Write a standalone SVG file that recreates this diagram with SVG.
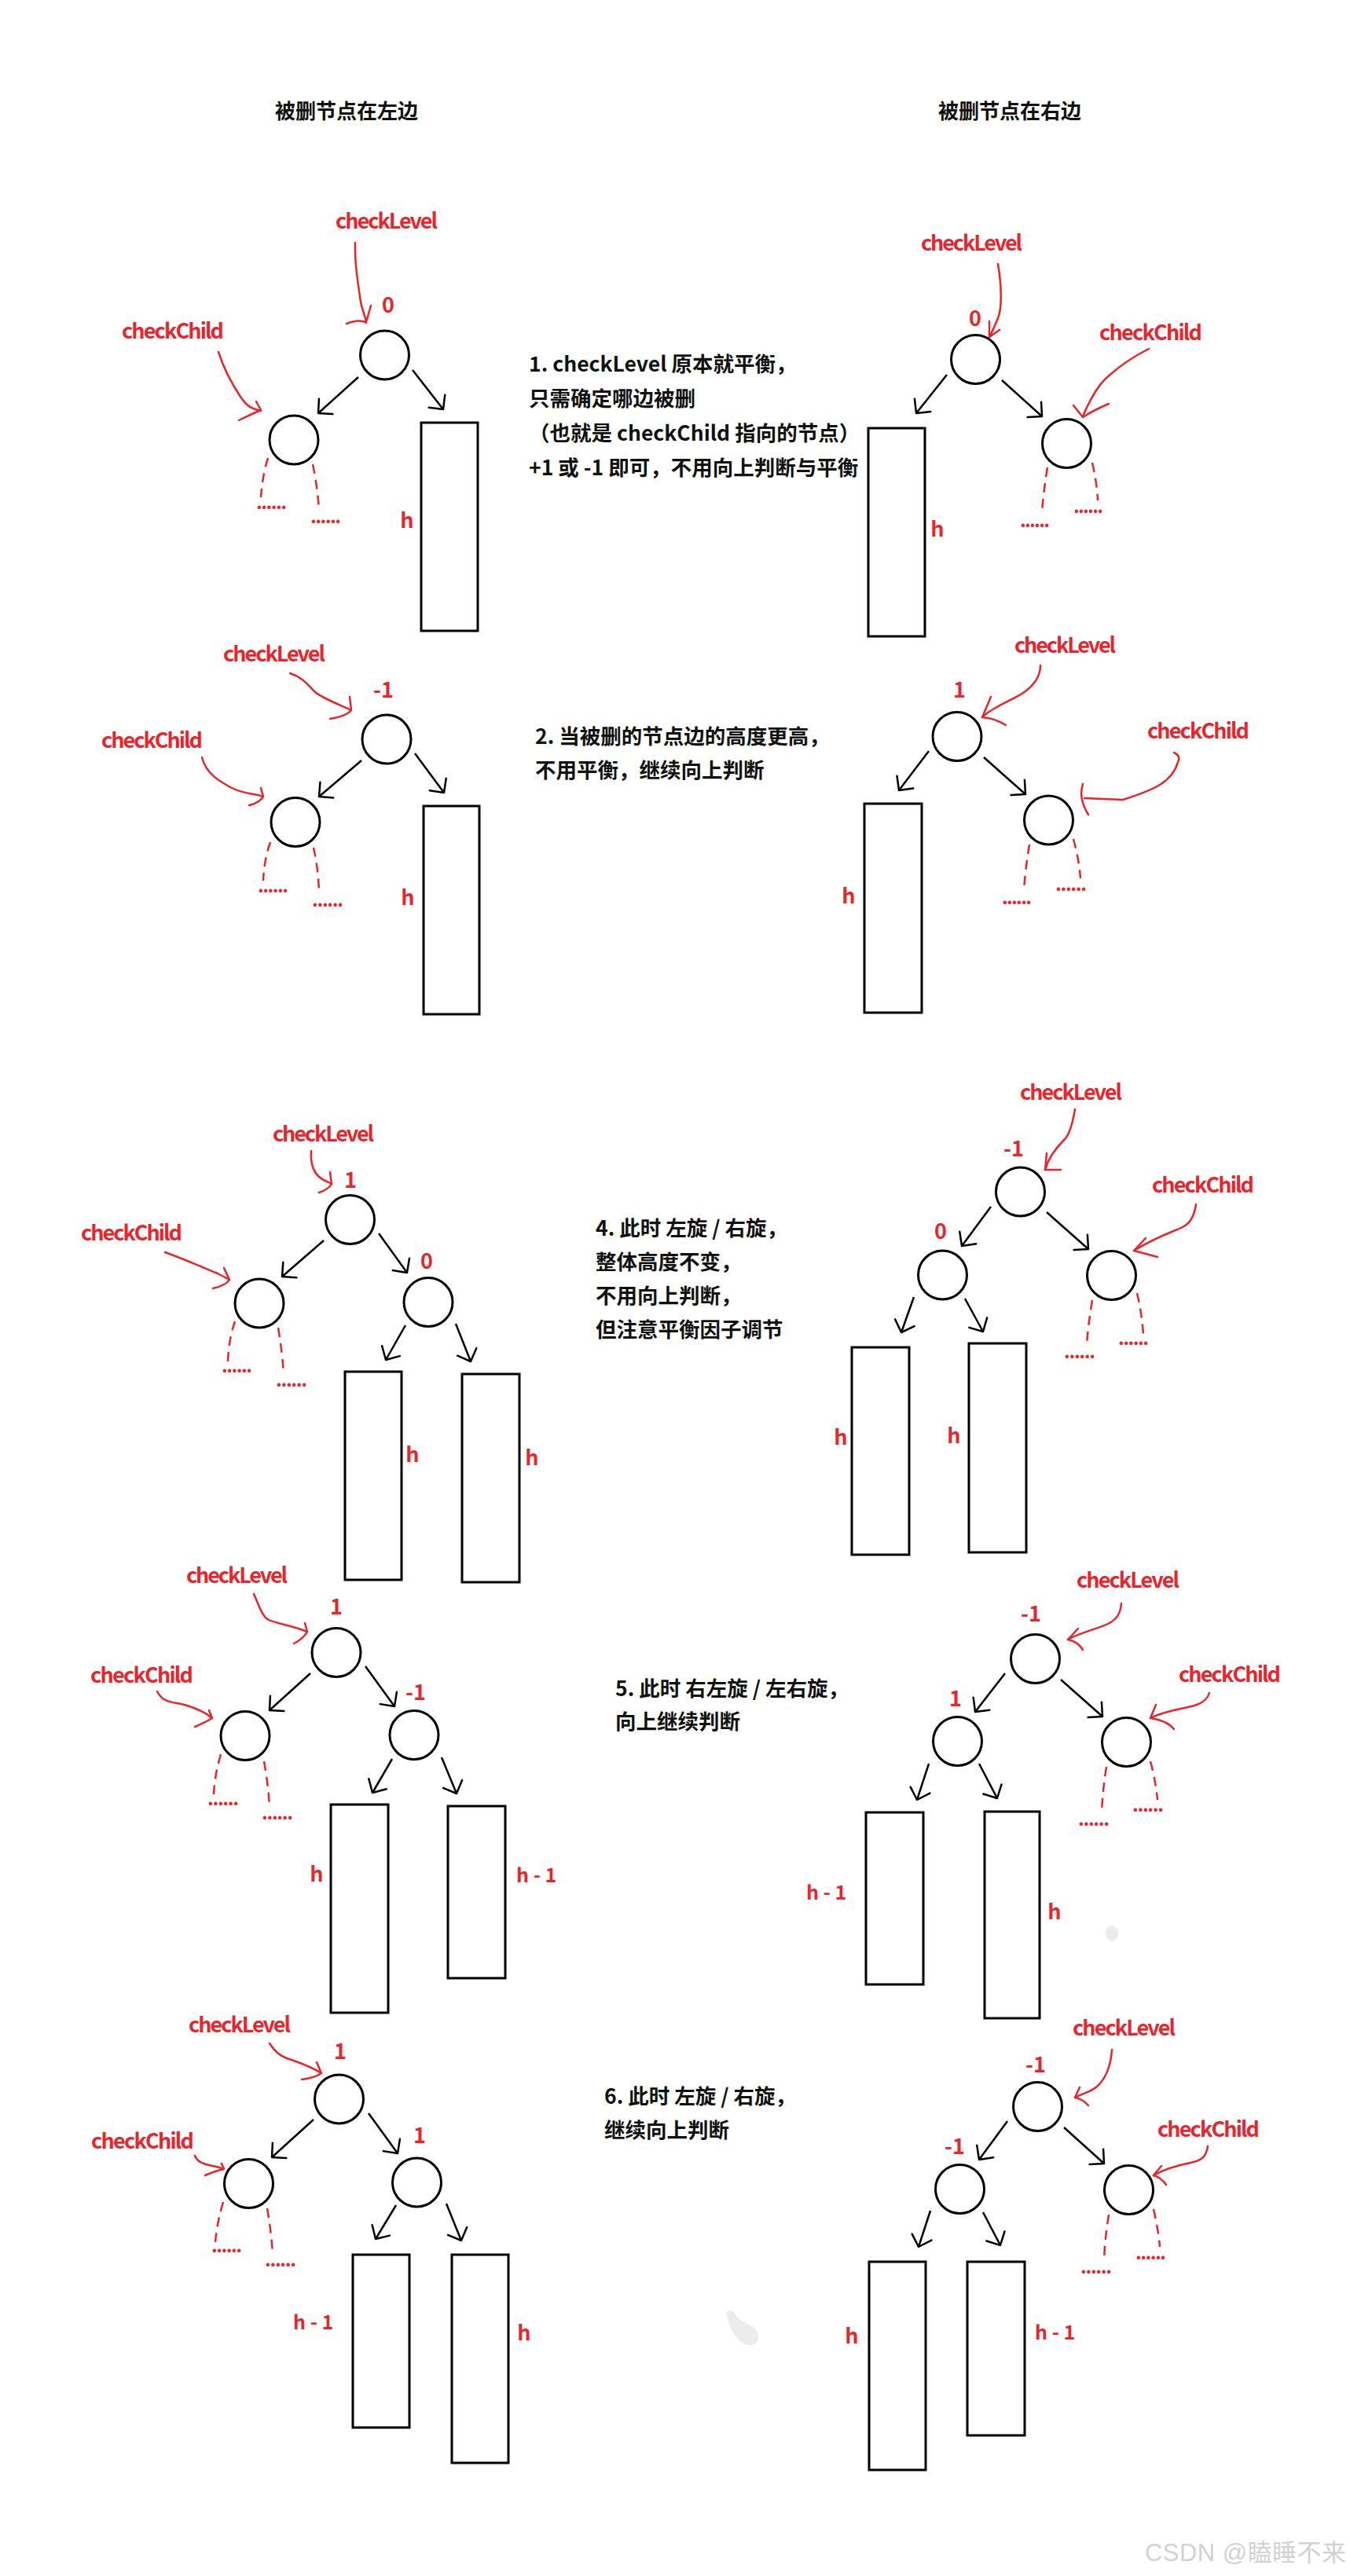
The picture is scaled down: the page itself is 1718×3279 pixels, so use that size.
<svg xmlns="http://www.w3.org/2000/svg" width="1718" height="3279" viewBox="0 0 1718 3279">
<defs>
<style>
.c{fill:#fff;stroke:#000;stroke-width:3}
.rc{fill:none;stroke:#000;stroke-width:3}
.a{fill:none;stroke:#000;stroke-width:2.5;marker-end:url(#ah)}
.ra{fill:none;stroke:#e8242c;stroke-width:2.5;stroke-linecap:round;stroke-linejoin:round}
.d{fill:none;stroke:#e8242c;stroke-width:2.5;stroke-dasharray:12 8}
.t{font-family:"Noto Sans CJK SC","Liberation Sans",sans-serif;font-weight:bold}
.lab{font-size:27px;fill:#e8242c}
.num{font-size:27px;fill:#e8242c;text-anchor:middle}
.hl{font-size:25px;fill:#e8242c}
.dots{font-size:24px;fill:#e8242c}
.note{font-size:26.5px;fill:#111}
.hdr{font-size:26px;fill:#111}
.wm{font-family:"Liberation Sans","Noto Sans CJK SC",sans-serif;font-size:31px;fill:#d2d2d2}
</style>
<marker id="ah" markerUnits="userSpaceOnUse" markerWidth="40" markerHeight="40" viewBox="-20 -20 40 40" refX="0" refY="0" orient="auto" overflow="visible">
<path d="M-13,-13 L0,0 L-13,13" fill="none" stroke="#000" stroke-width="2.5" stroke-linecap="round" stroke-linejoin="round"/>
</marker>
</defs>
<rect width="1718" height="3279" fill="#fff"/>

<g id="headers" class="t hdr">
<text x="350" y="151">被删节点在左边</text>
<text x="1194" y="151">被删节点在右边</text>
</g>

<g id="notes" class="t note">
<text x="673" y="473">1. checkLevel 原本就平衡，</text>
<text x="673" y="517">只需确定哪边被删</text>
<text x="673" y="561">（也就是 checkChild 指向的节点）</text>
<text x="673" y="605">+1 或 -1 即可，不用向上判断与平衡</text>
<text x="681" y="947">2. 当被删的节点边的高度更高，</text>
<text x="681" y="990">不用平衡，继续向上判断</text>
<text x="758" y="1573">4. 此时 左旋 / 右旋，</text>
<text x="758" y="1616">整体高度不变，</text>
<text x="758" y="1659">不用向上判断，</text>
<text x="758" y="1702">但注意平衡因子调节</text>
<text x="783" y="2159">5. 此时 右左旋 / 左右旋，</text>
<text x="783" y="2201">向上继续判断</text>
<text x="769" y="2678">6. 此时 左旋 / 右旋，</text>
<text x="769" y="2721">继续向上判断</text>
</g>

<g id="connectors">
<!-- panel 1 left -->
<path class="a" d="M456,480 L405,526"/>
<path class="a" d="M525,471 L564,521"/>
<path class="ra" d="M452,309 C451,340 456,360 458,378 S465,400 466,411"/>
<path class="ra" d="M441,412 Q455,406 466,410 L472,389"/>
<path class="ra" d="M278,448 C285,470 296,490 306,505 S322,520 332,523"/>
<path class="ra" d="M304,535 Q318,528 332,522 L326,511"/>
<path class="d" d="M341,583 Q334,605 332,633"/>
<path class="d" d="M398,591 Q404,620 406,649"/>
<!-- panel 1 right -->
<path class="a" d="M1205,477 L1166,526"/>
<path class="a" d="M1275,484 L1326,530"/>
<path class="ra" d="M1270,336 C1274,360 1276,390 1270,405 S1262,422 1260,428"/>
<path class="ra" d="M1259,409 L1259,429 L1272,420"/>
<path class="ra" d="M1462,444 C1440,455 1420,470 1408,481 S1384,515 1378,530"/>
<path class="ra" d="M1366,516 L1378,531 Q1392,522 1411,514"/>
<path class="d" d="M1333,595 Q1328,625 1326,651"/>
<path class="d" d="M1390,589 Q1396,615 1397,637"/>
<!-- panel 2 left -->
<path class="a" d="M460,968 L406,1014"/>
<path class="a" d="M528,959 L565,1009"/>
<path class="ra" d="M369,857 C385,862 392,872 400,880 S430,896 447,904"/>
<path class="ra" d="M420,915 Q440,912 447,904 L445,887"/>
<path class="ra" d="M257,964 C262,985 280,995 295,1003 S325,1010 335,1014"/>
<path class="ra" d="M317,1025 Q330,1022 335,1014 L332,1003"/>
<path class="d" d="M344,1072 Q336,1095 335,1121"/>
<path class="d" d="M399,1079 Q405,1105 406,1135"/>
<!-- panel 2 right -->
<path class="a" d="M1182,956 L1144,1006"/>
<path class="a" d="M1252,964 L1305,1011"/>
<path class="ra" d="M1324,847 C1324,860 1318,870 1305,880 S1262,900 1250,913"/>
<path class="ra" d="M1261,887 L1250,913 Q1265,914 1280,923"/>
<path class="ra" d="M1494,958 Q1503,962 1499,970 C1492,995 1470,1005 1429,1018 L1380,1016"/>
<path class="ra" d="M1378,998 Q1372,1016 1385,1037"/>
<path class="d" d="M1310,1075 Q1305,1105 1303,1133"/>
<path class="d" d="M1366,1068 Q1373,1093 1375,1118"/>
<!-- panel 4 left -->
<path class="a" d="M412,1579 L359,1625"/>
<path class="a" d="M482,1570 L518,1620"/>
<path class="a" d="M516,1687 L491,1731"/>
<path class="a" d="M580,1685 L599,1733"/>
<path class="ra" d="M396,1465 C395,1480 398,1490 405,1497 S418,1504 422,1507"/>
<path class="ra" d="M406,1518 Q418,1514 422,1507 L420,1492"/>
<path class="ra" d="M210,1594 C235,1603 255,1612 277,1621 L292,1629"/>
<path class="ra" d="M271,1640 Q288,1636 292,1629 L285,1614"/>
<path class="d" d="M299,1682 Q291,1705 290,1733"/>
<path class="d" d="M354,1690 Q359,1720 361,1748"/>
<!-- panel 4 right -->
<path class="a" d="M1261,1536 L1224,1586"/>
<path class="a" d="M1332,1543 L1385,1590"/>
<path class="a" d="M1163,1651 L1147,1696"/>
<path class="a" d="M1228,1653 L1251,1695"/>
<path class="ra" d="M1368,1412 C1365,1430 1360,1445 1355,1450 S1335,1470 1330,1489"/>
<path class="ra" d="M1332,1468 L1330,1489 L1350,1489"/>
<path class="ra" d="M1522,1533 C1520,1548 1515,1557 1505,1562 S1470,1575 1443,1592"/>
<path class="ra" d="M1458,1576 L1443,1592 L1473,1600"/>
<path class="d" d="M1390,1655 Q1385,1685 1383,1711"/>
<path class="d" d="M1447,1646 Q1453,1672 1455,1698"/>
<!-- panel 5 left -->
<path class="a" d="M395,2130 L343,2177"/>
<path class="a" d="M465,2121 L502,2172"/>
<path class="a" d="M499,2239 L474,2282"/>
<path class="a" d="M562,2237 L581,2283"/>
<path class="ra" d="M323,2029 C330,2045 334,2058 342,2062 S375,2070 391,2077"/>
<path class="ra" d="M374,2092 Q386,2086 391,2077 L388,2066"/>
<path class="ra" d="M200,2153 C205,2163 212,2166 225,2168 S258,2177 270,2187"/>
<path class="ra" d="M248,2198 Q262,2192 270,2187 L266,2177"/>
<path class="d" d="M281,2233 Q273,2260 272,2284"/>
<path class="d" d="M336,2242 Q341,2270 343,2298"/>
<!-- panel 5 right -->
<path class="a" d="M1279,2130 L1241,2179"/>
<path class="a" d="M1350,2138 L1403,2185"/>
<path class="a" d="M1182,2245 L1167,2291"/>
<path class="a" d="M1246,2245 L1269,2289"/>
<path class="ra" d="M1427,2041 C1426,2055 1420,2062 1410,2067 S1370,2080 1359,2087"/>
<path class="ra" d="M1372,2073 L1359,2087 Q1372,2090 1378,2100"/>
<path class="ra" d="M1539,2155 C1537,2162 1530,2168 1520,2171 S1480,2178 1464,2187"/>
<path class="ra" d="M1471,2170 L1464,2187 Q1485,2190 1494,2201"/>
<path class="d" d="M1408,2249 Q1403,2280 1402,2308"/>
<path class="d" d="M1464,2242 Q1471,2268 1473,2291"/>
<!-- panel 6 left -->
<path class="a" d="M399,2698 L346,2746"/>
<path class="a" d="M469,2690 L506,2741"/>
<path class="a" d="M504,2807 L478,2850"/>
<path class="a" d="M568,2805 L587,2852"/>
<path class="ra" d="M343,2601 C350,2612 356,2617 365,2620 S395,2630 409,2639"/>
<path class="ra" d="M384,2647 Q400,2645 409,2639 L403,2625"/>
<path class="ra" d="M248,2744 C250,2750 255,2753 262,2755 S278,2758 285,2761"/>
<path class="ra" d="M261,2769 Q275,2763 285,2761 L282,2754"/>
<path class="d" d="M284,2803 Q276,2830 274,2854"/>
<path class="d" d="M340,2811 Q345,2840 347,2868"/>
<!-- panel 6 right -->
<path class="a" d="M1282,2700 L1246,2749"/>
<path class="a" d="M1354,2708 L1405,2754"/>
<path class="a" d="M1184,2814 L1169,2860"/>
<path class="a" d="M1251,2816 L1273,2858"/>
<path class="ra" d="M1415,2609 C1414,2625 1410,2640 1400,2652 S1375,2665 1368,2670"/>
<path class="ra" d="M1374,2657 L1368,2670 Q1378,2672 1385,2680"/>
<path class="ra" d="M1537,2732 C1535,2745 1530,2750 1515,2753 S1480,2762 1468,2769"/>
<path class="ra" d="M1478,2757 L1468,2769 Q1478,2772 1484,2781"/>
<path class="d" d="M1411,2819 Q1406,2850 1405,2877"/>
<path class="d" d="M1468,2812 Q1474,2838 1476,2860"/>
</g>

<g id="nodes">
<!-- panel 1 left -->
<g id="p1L-root"><circle class="c" cx="489.5" cy="452" r="31"/><text class="t num" x="494" y="398">0</text></g>
<g id="p1L-child"><circle class="c" cx="374" cy="560" r="31"/></g>
<g id="p1L-tree"><rect class="rc" x="536" y="538" width="72" height="265"/><text class="t num" x="518" y="672">h</text></g>
<!-- panel 1 right -->
<g id="p1R-root"><circle class="c" cx="1241.5" cy="457.5" r="31"/><text class="t num" x="1241" y="415">0</text></g>
<g id="p1R-child"><circle class="c" cx="1357.5" cy="564.5" r="31"/></g>
<g id="p1R-tree"><rect class="rc" x="1105" y="545" width="72" height="265"/><text class="t num" x="1193" y="683">h</text></g>
<!-- panel 2 left -->
<g id="p2L-root"><circle class="c" cx="492" cy="941" r="31"/><text class="t num" x="488" y="888">-1</text></g>
<g id="p2L-child"><circle class="c" cx="376" cy="1046.5" r="31"/></g>
<g id="p2L-tree"><rect class="rc" x="539" y="1026" width="71" height="265"/><text class="t num" x="519" y="1152">h</text></g>
<!-- panel 2 right -->
<g id="p2R-root"><circle class="c" cx="1218" cy="937.5" r="31"/><text class="t num" x="1221" y="888">1</text></g>
<g id="p2R-child"><circle class="c" cx="1334.5" cy="1044" r="31"/></g>
<g id="p2R-tree"><rect class="rc" x="1100" y="1023" width="73" height="266"/><text class="t num" x="1080" y="1150">h</text></g>
<!-- panel 4 left -->
<g id="p4L-root"><circle class="c" cx="445.5" cy="1552.5" r="31"/><text class="t num" x="446" y="1512">1</text></g>
<g id="p4L-child"><circle class="c" cx="330" cy="1659" r="31"/></g>
<g id="p4L-right"><circle class="c" cx="545" cy="1657.5" r="31"/><text class="t num" x="543" y="1615">0</text></g>
<g id="p4L-tree1"><rect class="rc" x="439" y="1746" width="72" height="265"/><text class="t num" x="525" y="1861">h</text></g>
<g id="p4L-tree2"><rect class="rc" x="588" y="1749" width="73" height="265"/><text class="t num" x="677" y="1865">h</text></g>
<!-- panel 4 right -->
<g id="p4R-root"><circle class="c" cx="1298.5" cy="1517" r="31"/><text class="t num" x="1290" y="1472">-1</text></g>
<g id="p4R-left"><circle class="c" cx="1199.5" cy="1623" r="31"/><text class="t num" x="1197" y="1577">0</text></g>
<g id="p4R-child"><circle class="c" cx="1414.5" cy="1623.5" r="31"/></g>
<g id="p4R-tree1"><rect class="rc" x="1084" y="1715" width="73" height="264"/><text class="t num" x="1070" y="1839">h</text></g>
<g id="p4R-tree2"><rect class="rc" x="1233" y="1710" width="73" height="266"/><text class="t num" x="1214" y="1837">h</text></g>
<!-- panel 5 left -->
<g id="p5L-root"><circle class="c" cx="428" cy="2103.5" r="31"/><text class="t num" x="428" y="2055">1</text></g>
<g id="p5L-child"><circle class="c" cx="312" cy="2209.5" r="31"/></g>
<g id="p5L-right"><circle class="c" cx="527" cy="2208.5" r="31"/><text class="t num" x="529" y="2164">-1</text></g>
<g id="p5L-tree1"><rect class="rc" x="421" y="2297" width="73" height="265"/><text class="t num" x="403" y="2395">h</text></g>
<g id="p5L-tree2"><rect class="rc" x="570" y="2299" width="73" height="219"/><text class="t hl" x="657" y="2396">h - 1</text></g>
<!-- panel 5 right -->
<g id="p5R-root"><circle class="c" cx="1317.5" cy="2111.5" r="31"/><text class="t num" x="1312" y="2064">-1</text></g>
<g id="p5R-left"><circle class="c" cx="1218.5" cy="2216.5" r="31"/><text class="t num" x="1216" y="2172">1</text></g>
<g id="p5R-child"><circle class="c" cx="1433.5" cy="2217.5" r="31"/></g>
<g id="p5R-tree1"><rect class="rc" x="1102" y="2307" width="73" height="219"/><text class="t hl" x="1026" y="2418">h - 1</text></g>
<g id="p5R-tree2"><rect class="rc" x="1253" y="2306" width="70" height="263"/><text class="t num" x="1342" y="2443">h</text></g>
<!-- panel 6 left -->
<g id="p6L-root"><circle class="c" cx="431.5" cy="2672" r="31"/><text class="t num" x="433" y="2621">1</text></g>
<g id="p6L-child"><circle class="c" cx="316.5" cy="2779.5" r="31"/></g>
<g id="p6L-right"><circle class="c" cx="530.5" cy="2778" r="31"/><text class="t num" x="534" y="2728">1</text></g>
<g id="p6L-tree1"><rect class="rc" x="449" y="2870" width="72" height="220"/><text class="t hl" x="373" y="2965">h - 1</text></g>
<g id="p6L-tree2"><rect class="rc" x="575" y="2870" width="72" height="265"/><text class="t num" x="667" y="2979">h</text></g>
<!-- panel 6 right -->
<g id="p6R-root"><circle class="c" cx="1320.5" cy="2681.5" r="31"/><text class="t num" x="1318" y="2638">-1</text></g>
<g id="p6R-left"><circle class="c" cx="1221.5" cy="2786.5" r="31"/><text class="t num" x="1215" y="2742">-1</text></g>
<g id="p6R-child"><circle class="c" cx="1436.5" cy="2787.5" r="31"/></g>
<g id="p6R-tree1"><rect class="rc" x="1106" y="2879" width="72" height="265"/><text class="t num" x="1084" y="2983">h</text></g>
<g id="p6R-tree2"><rect class="rc" x="1231" y="2879" width="73" height="221"/><text class="t hl" x="1317" y="2978">h - 1</text></g>
</g>

<g id="labels" class="t lab">
<text x="427" y="291" textLength="130">checkLevel</text>
<text x="155" y="431" textLength="130">checkChild</text>
<text x="1172" y="319" textLength="129">checkLevel</text>
<text x="1399" y="433" textLength="131">checkChild</text>
<text x="284" y="842" textLength="130">checkLevel</text>
<text x="129" y="952" textLength="129">checkChild</text>
<text x="1291" y="831" textLength="129">checkLevel</text>
<text x="1460" y="940" textLength="130">checkChild</text>
<text x="347" y="1453" textLength="129">checkLevel</text>
<text x="103" y="1579" textLength="129">checkChild</text>
<text x="1298" y="1400" textLength="130">checkLevel</text>
<text x="1466" y="1518" textLength="130">checkChild</text>
<text x="237" y="2015" textLength="129">checkLevel</text>
<text x="115" y="2142" textLength="131">checkChild</text>
<text x="1370" y="2021" textLength="131">checkLevel</text>
<text x="1500" y="2141" textLength="130">checkChild</text>
<text x="240" y="2587" textLength="130">checkLevel</text>
<text x="116" y="2735" textLength="131">checkChild</text>
<text x="1365" y="2591" textLength="131">checkLevel</text>
<text x="1473" y="2720" textLength="130">checkChild</text>
</g>

<g id="ellipses" class="t dots">
<text x="326" y="648" textLength="39">......</text>
<text x="395" y="666" textLength="39">......</text>
<text x="1298" y="671" textLength="38">......</text>
<text x="1366" y="653" textLength="38">......</text>
<text x="328" y="1136" textLength="39">......</text>
<text x="397" y="1154" textLength="40">......</text>
<text x="1275" y="1151" textLength="38">......</text>
<text x="1343" y="1134" textLength="40">......</text>
<text x="282" y="1747" textLength="39">......</text>
<text x="351" y="1765" textLength="40">......</text>
<text x="1354" y="1729" textLength="40">......</text>
<text x="1423" y="1712" textLength="39">......</text>
<text x="264" y="2298" textLength="40">......</text>
<text x="333" y="2316" textLength="40">......</text>
<text x="1372" y="2324" textLength="40">......</text>
<text x="1441" y="2306" textLength="40">......</text>
<text x="269" y="2867" textLength="39">......</text>
<text x="337" y="2885" textLength="40">......</text>
<text x="1375" y="2894" textLength="40">......</text>
<text x="1445" y="2876" textLength="39">......</text>
</g>

<g id="smudges" fill="#ececec">
<ellipse cx="1415" cy="2461" rx="8" ry="10"/>
<path d="M925,2948 C922,2940 932,2938 936,2946 C940,2954 948,2956 958,2962 C970,2970 966,2988 952,2985 C940,2983 930,2968 925,2948 Z"/>
</g>

<g id="watermark">
<text class="wm" x="1457" y="3260" textLength="256">CSDN @瞌睡不来</text>
</g>
</svg>
